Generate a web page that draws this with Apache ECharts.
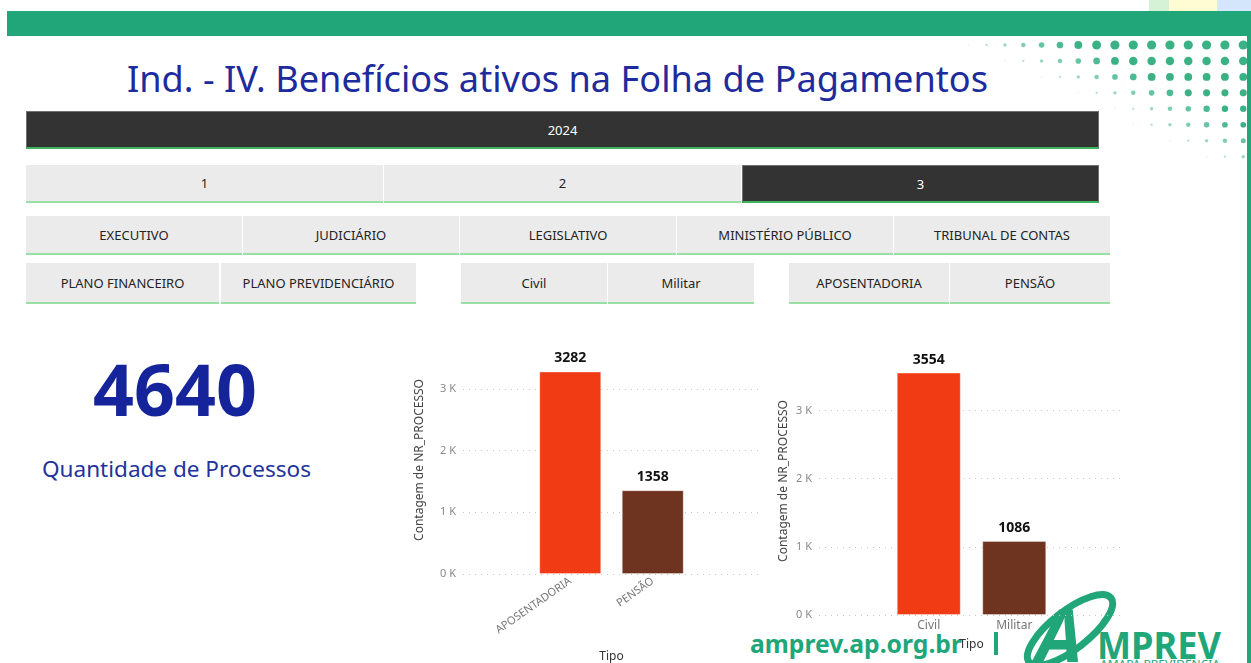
<!DOCTYPE html>
<html>
<head>
<meta charset="utf-8">
<script src="https://cdn.jsdelivr.net/npm/echarts@6/dist/echarts.min.js"></script>
<style>
  body { margin: 0; width: 1251px; height: 663px; overflow: hidden; background: #fff;
         font-family: "Noto Sans", "Open Sans", sans-serif; position: relative; }
  #decor { position: absolute; left: 0; top: 0; z-index: 0; }
  .topband { position: absolute; left: 7px; top: 11px; width: 1244px; height: 25px; background: #21a67a; }
  .sideline { position: absolute; left: 1247px; top: 36px; width: 4px; height: 627px; background: #21a67a; }
  .fit { position: absolute; white-space: nowrap; transform-origin: 0 0; z-index: 1; }
  .title { left: 127px; top: 54px; font-size: 36px; color: #1e2b9c; }
  .bignum { left: 93px; top: 345px; font-size: 72px; font-weight: bold; color: #15249a; line-height: 1.2; }
  .cardlbl { left: 42px; top: 453px; font-size: 22px; color: #23339e; }
  .site { left: 750px; top: 626px; font-size: 25px; font-weight: bold; color: #21a67a; }
  .btn { position: absolute; z-index: 1; background: #ebebeb; color: #252423; font-size: 13px;
         display: flex; align-items: center; justify-content: center; box-sizing: border-box;
         border-bottom: 2px solid #98e0a6; }
  .btn.sel { background: #333; color: #fff; border: 1px solid #707070; border-bottom: 2px solid #3db35d; }
  #chart { position: absolute; left: 0; top: 0; width: 1251px; height: 663px; z-index: 2; }
</style>
</head>
<body>
<svg id="decor" width="1251" height="663"></svg>
<div class="topband"></div>
<div class="sideline"></div>
<div class="fit title" data-w="861">Ind. - IV. Benefícios ativos na Folha de Pagamentos</div>
<div class="fit bignum" id="total" data-w="164"></div>
<div class="fit cardlbl" data-w="269">Quantidade de Processos</div>
<div class="fit site" data-w="212">amprev.ap.org.br</div>
<div id="chart"></div>
<script>
// dados
const totalProcessos = 4640;
const tipoBeneficio = ['APOSENTADORIA', 'PENSÃO'];
const qtdBeneficio = [3282, 1358];
const tipoServidor = ['Civil', 'Militar'];
const qtdServidor = [3554, 1086];
const barColors = ['#f03b14', '#6f3420'];

// segmentadores (texto, x, y, largura, altura, selecionado)
const slicers = [
  ['2024', 26, 111, 1073, 38, true],
  ['1', 26, 165, 357, 38, false],
  ['2', 384, 165, 357, 38, false],
  ['3', 742, 165, 357, 38, true],
  ['EXECUTIVO', 26, 216, 216, 39, false],
  ['JUDICIÁRIO', 243, 216, 216, 39, false],
  ['LEGISLATIVO', 460, 216, 216, 39, false],
  ['MINISTÉRIO PÚBLICO', 677, 216, 216, 39, false],
  ['TRIBUNAL DE CONTAS', 894, 216, 216, 39, false],
  ['PLANO FINANCEIRO', 26, 263, 193, 41, false],
  ['PLANO PREVIDENCIÁRIO', 221, 263, 195, 41, false],
  ['Civil', 461, 263, 146, 41, false],
  ['Militar', 608, 263, 146, 41, false],
  ['APOSENTADORIA', 789, 263, 160, 41, false],
  ['PENSÃO', 950, 263, 160, 41, false]
];

slicers.forEach(s => {
  const d = document.createElement('div');
  d.className = 'btn' + (s[5] ? ' sel' : '');
  d.textContent = s[0];
  d.style.left = s[1] + 'px';
  d.style.top = s[2] + 'px';
  d.style.width = s[3] + 'px';
  d.style.height = s[4] + 'px';
  document.body.appendChild(d);
});

document.getElementById('total').textContent = totalProcessos;

// ajusta largura dos textos
document.querySelectorAll('.fit').forEach(el => {
  const w = el.getBoundingClientRect().width;
  el.style.transform = 'scaleX(' + (el.dataset.w / w) + ')';
});

// decoracao: pontos e logo
const svg = document.getElementById('decor');
let html = '';
html += '<rect x="1149" y="0" width="20" height="11" fill="#d6f2d6"/>';
html += '<rect x="1169" y="0" width="48" height="11" fill="#fffbd2"/>';
html += '<rect x="1217" y="0" width="34" height="11" fill="#d3e6fb"/>';
const rowStart = [0, 2, 4, 6, 8, 9, 11, 13];
rowStart.forEach((st, r) => {
  for (let c = st; c < 16; c++) {
    const x = 968.3 + c * 18.33;
    const y = 45 + r * 15.95;
    const k = c - st;
    const rad = Math.max(0.6, Math.min(4.6 - r * 0.35, 0.6 + k * 0.55));
    const op = Math.min(0.95, 0.25 + k * 0.12);
    html += '<circle cx="' + x + '" cy="' + y + '" r="' + rad + '" fill="#2fae80" opacity="' + op + '"/>';
  }
});
html += '<rect x="994" y="632" width="4" height="23" fill="#21a67a"/>';
html += '<ellipse cx="1070" cy="630" rx="52" ry="19" transform="rotate(-38 1070 630)" fill="none" stroke="#21a67a" stroke-width="7"/>';
html += '<text x="1036" y="662" font-family="Noto Sans" font-size="74" font-weight="bold" font-style="italic" fill="#21a67a">A</text>';
html += '<text x="1097" y="659" font-family="Noto Sans" font-size="37" font-weight="bold" fill="#21a67a" textLength="124" lengthAdjust="spacingAndGlyphs">MPREV</text>';
html += '<text x="1100" y="668" font-family="Noto Sans" font-size="10" fill="#21a67a" textLength="120" lengthAdjust="spacingAndGlyphs">AMAPÁ PREVIDÊNCIA</text>';
svg.innerHTML = html;

// graficos
const kFmt = v => (v % 1000 === 0 ? v / 1000 + ' K' : '');

function valueAxis(gridIndex, max, visible, nameGap) {
  return {
    type: 'value', gridIndex: gridIndex, min: 0, max: max, interval: 1000, show: visible,
    name: 'Contagem de NR_PROCESSO', nameLocation: 'middle', nameGap: nameGap,
    nameTextStyle: { fontSize: 12, color: '#444' },
    axisLine: { show: false }, axisTick: { show: false },
    axisLabel: { formatter: kFmt, color: '#8a8a8a', fontSize: 11, margin: 7, showMaxLabel: false },
    splitLine: { show: visible, showMaxLine: false, lineStyle: { type: [1, 5], color: '#c8c8c8' } }
  };
}

function barSeries(axisIndex, data, width) {
  return {
    type: 'bar', xAxisIndex: axisIndex, yAxisIndex: axisIndex, barWidth: width,
    data: data.map((v, i) => ({ value: v, itemStyle: { color: barColors[i] } })),
    itemStyle: { borderColor: 'rgba(255,255,255,0.35)', borderWidth: 1 },
    label: { show: true, position: 'top', distance: 6, fontWeight: 'bold', fontSize: 14, color: '#111' }
  };
}

const myChart = echarts.init(document.getElementById('chart'));
myChart.setOption({
  animation: false,
  textStyle: { fontFamily: 'Noto Sans' },
  grid: [
    { left: 463, width: 297, top: 346, height: 228, outerBoundsMode: 'none' },
    { left: 529, width: 165, top: 346, height: 228, outerBoundsMode: 'none' },
    { left: 819, width: 306, top: 347, height: 268, outerBoundsMode: 'none' },
    { left: 886, width: 171, top: 347, height: 268, outerBoundsMode: 'none' }
  ],
  xAxis: [
    { type: 'category', gridIndex: 0, data: tipoBeneficio, show: false },
    { type: 'category', gridIndex: 1, data: tipoBeneficio,
      name: 'Tipo', nameLocation: 'middle', nameGap: 77, nameTextStyle: { fontSize: 12, color: '#333' },
      axisLine: { show: false }, axisTick: { show: false },
      axisLabel: { rotate: 35, color: '#777', fontSize: 11, margin: 6 } },
    { type: 'category', gridIndex: 2, data: tipoServidor, show: false },
    { type: 'category', gridIndex: 3, data: tipoServidor,
      name: 'Tipo', nameLocation: 'middle', nameGap: 24, nameTextStyle: { fontSize: 12, color: '#333' },
      axisLine: { show: false }, axisTick: { show: false },
      axisLabel: { color: '#777', fontSize: 12, margin: 5 } }
  ],
  yAxis: [
    valueAxis(0, 228 / 61.7 * 1000, true, 37),
    valueAxis(1, 228 / 61.7 * 1000, false, 37),
    valueAxis(2, 268 / 68.2 * 1000, true, 29),
    valueAxis(3, 268 / 68.2 * 1000, false, 29)
  ],
  series: [
    barSeries(1, qtdBeneficio, 62),
    barSeries(3, qtdServidor, 64)
  ]
});
</script>
</body>
</html>
